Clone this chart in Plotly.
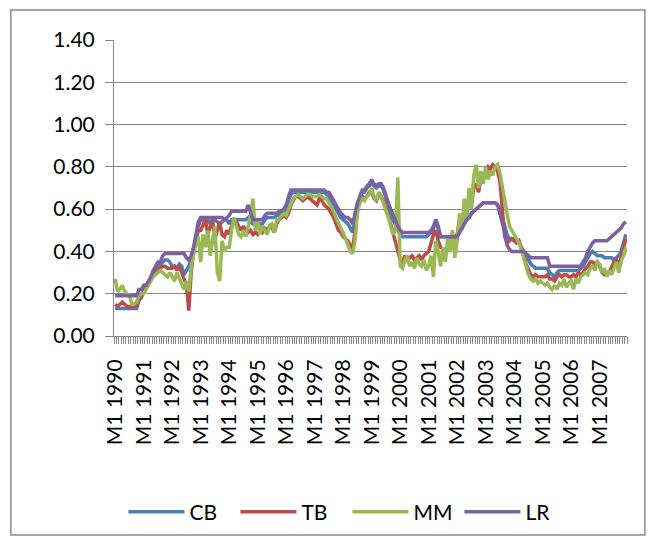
import plotly.graph_objects as go

# Monthly observations, January 1990 to December 2007 (12 values per year)
years = list(range(1990, 2008))
tick_labels = [f"M1 {y}" for y in years]

cb = [
    0.13, 0.13, 0.13, 0.13, 0.13, 0.13, 0.13, 0.13, 0.13, 0.13, 0.17, 0.18,  # 1990
    0.21, 0.23, 0.25, 0.27, 0.29, 0.31, 0.33, 0.34, 0.35, 0.36, 0.36, 0.35,  # 1991
    0.33, 0.33, 0.32, 0.34, 0.33, 0.29, 0.31, 0.33, 0.36, 0.42, 0.47, 0.52,  # 1992
    0.55, 0.55, 0.54, 0.55, 0.53, 0.55, 0.55, 0.54, 0.53, 0.54, 0.55, 0.55,  # 1993
    0.53, 0.55, 0.55, 0.55, 0.55, 0.55, 0.55, 0.55, 0.56, 0.54, 0.53, 0.53,  # 1994
    0.53, 0.53, 0.53, 0.55, 0.56, 0.56, 0.56, 0.56, 0.57, 0.57, 0.58, 0.59,  # 1995
    0.60, 0.64, 0.67, 0.68, 0.68, 0.68, 0.68, 0.68, 0.68, 0.68, 0.68, 0.68,  # 1996
    0.68, 0.68, 0.68, 0.68, 0.68, 0.67, 0.66, 0.64, 0.62, 0.60, 0.58, 0.56,  # 1997
    0.55, 0.54, 0.53, 0.51, 0.49, 0.55, 0.62, 0.65, 0.68, 0.68, 0.70, 0.71,  # 1998
    0.72, 0.71, 0.70, 0.71, 0.71, 0.69, 0.65, 0.61, 0.58, 0.55, 0.52, 0.50,  # 1999
    0.48, 0.47, 0.47, 0.47, 0.47, 0.47, 0.47, 0.47, 0.47, 0.47, 0.47, 0.47,  # 2000
    0.48, 0.49, 0.51, 0.54, 0.51, 0.47, 0.47, 0.47, 0.47, 0.47, 0.47, 0.47,  # 2001
    0.47, 0.49, 0.51, 0.53, 0.55, 0.56, 0.58, 0.59, 0.60, 0.61, 0.62, 0.63,  # 2002
    0.63, 0.63, 0.63, 0.63, 0.63, 0.62, 0.60, 0.56, 0.52, 0.48, 0.46, 0.46,  # 2003
    0.46, 0.45, 0.44, 0.42, 0.40, 0.38, 0.36, 0.34, 0.33, 0.32, 0.32, 0.32,  # 2004
    0.32, 0.32, 0.32, 0.30, 0.29, 0.28, 0.30, 0.31, 0.31, 0.31, 0.31, 0.31,  # 2005
    0.31, 0.31, 0.31, 0.31, 0.32, 0.33, 0.35, 0.37, 0.39, 0.40, 0.39, 0.38,  # 2006
    0.38, 0.38, 0.37, 0.37, 0.37, 0.37, 0.36, 0.37, 0.38, 0.40, 0.44, 0.48,  # 2007
]

tb = [
    0.15, 0.14, 0.15, 0.16, 0.15, 0.14, 0.14, 0.14, 0.14, 0.14, 0.17, 0.19,  # 1990
    0.21, 0.23, 0.25, 0.27, 0.29, 0.30, 0.32, 0.32, 0.33, 0.33, 0.32, 0.32,  # 1991
    0.32, 0.33, 0.31, 0.33, 0.30, 0.27, 0.24, 0.12, 0.30, 0.40, 0.46, 0.50,  # 1992
    0.50, 0.53, 0.55, 0.48, 0.52, 0.55, 0.46, 0.50, 0.54, 0.48, 0.47, 0.50,  # 1993
    0.48, 0.52, 0.55, 0.54, 0.52, 0.50, 0.52, 0.50, 0.49, 0.50, 0.48, 0.49,  # 1994
    0.48, 0.50, 0.49, 0.51, 0.50, 0.52, 0.51, 0.49, 0.53, 0.55, 0.56, 0.57,  # 1995
    0.56, 0.58, 0.62, 0.64, 0.66, 0.66, 0.65, 0.64, 0.65, 0.66, 0.65, 0.64,  # 1996
    0.63, 0.62, 0.65, 0.64, 0.62, 0.61, 0.60, 0.58, 0.56, 0.53, 0.50, 0.49,  # 1997
    0.47, 0.46, 0.45, 0.43, 0.41, 0.50, 0.60, 0.64, 0.66, 0.65, 0.66, 0.68,  # 1998
    0.68, 0.65, 0.64, 0.67, 0.66, 0.64, 0.61, 0.57, 0.53, 0.49, 0.45, 0.40,  # 1999
    0.36, 0.35, 0.38, 0.36, 0.37, 0.38, 0.36, 0.37, 0.38, 0.36, 0.38, 0.39,  # 2000
    0.40, 0.44, 0.48, 0.50, 0.45, 0.42, 0.41, 0.38, 0.42, 0.45, 0.43, 0.47,  # 2001
    0.48, 0.55, 0.52, 0.60, 0.58, 0.65, 0.62, 0.70, 0.72, 0.68, 0.75, 0.74,  # 2002
    0.77, 0.80, 0.79, 0.81, 0.80, 0.78, 0.73, 0.60, 0.47, 0.44, 0.45, 0.46,  # 2003
    0.45, 0.44, 0.45, 0.42, 0.38, 0.34, 0.31, 0.29, 0.28, 0.29, 0.28, 0.28,  # 2004
    0.28, 0.28, 0.29, 0.27, 0.27, 0.26, 0.28, 0.29, 0.28, 0.29, 0.29, 0.28,  # 2005
    0.28, 0.29, 0.28, 0.30, 0.29, 0.30, 0.32, 0.33, 0.35, 0.35, 0.34, 0.35,  # 2006
    0.33, 0.30, 0.29, 0.29, 0.30, 0.33, 0.35, 0.36, 0.34, 0.37, 0.42, 0.46,  # 2007
]

mm = [
    0.27, 0.21, 0.22, 0.24, 0.21, 0.20, 0.19, 0.15, 0.15, 0.16, 0.19, 0.20,  # 1990
    0.20, 0.22, 0.24, 0.26, 0.28, 0.29, 0.30, 0.31, 0.30, 0.29, 0.28, 0.30,  # 1991
    0.28, 0.26, 0.30, 0.27, 0.25, 0.22, 0.26, 0.21, 0.33, 0.39, 0.44, 0.47,  # 1992
    0.35, 0.48, 0.42, 0.50, 0.38, 0.45, 0.52, 0.30, 0.26, 0.45, 0.40, 0.42,  # 1993
    0.42, 0.50, 0.56, 0.52, 0.48, 0.47, 0.50, 0.47, 0.52, 0.57, 0.65, 0.50,  # 1994
    0.55, 0.48, 0.52, 0.50, 0.48, 0.52, 0.53, 0.49, 0.55, 0.55, 0.57, 0.58,  # 1995
    0.57, 0.60, 0.63, 0.65, 0.66, 0.67, 0.66, 0.65, 0.66, 0.67, 0.67, 0.66,  # 1996
    0.66, 0.66, 0.67, 0.66, 0.65, 0.65, 0.63, 0.61, 0.59, 0.56, 0.53, 0.51,  # 1997
    0.49, 0.46, 0.42, 0.40, 0.39, 0.45, 0.58, 0.63, 0.65, 0.64, 0.66, 0.67,  # 1998
    0.70, 0.66, 0.64, 0.68, 0.66, 0.63, 0.60, 0.56, 0.52, 0.48, 0.50, 0.75,  # 1999
    0.33, 0.32, 0.36, 0.38, 0.33, 0.35, 0.32, 0.37, 0.34, 0.33, 0.36, 0.31,  # 2000
    0.33, 0.38, 0.28, 0.45, 0.40, 0.33, 0.42, 0.35, 0.46, 0.40, 0.50, 0.37,  # 2001
    0.45, 0.58, 0.50, 0.65, 0.55, 0.70, 0.60, 0.76, 0.81, 0.70, 0.78, 0.72,  # 2002
    0.80, 0.74, 0.78, 0.76, 0.80, 0.81, 0.77, 0.70, 0.64, 0.58, 0.52, 0.50,  # 2003
    0.48, 0.46, 0.44, 0.41, 0.37, 0.32, 0.29, 0.27, 0.26, 0.27, 0.25, 0.26,  # 2004
    0.25, 0.24, 0.25, 0.23, 0.22, 0.24, 0.22, 0.25, 0.24, 0.27, 0.23, 0.25,  # 2005
    0.26, 0.22, 0.27, 0.25, 0.28, 0.29, 0.30, 0.29, 0.32, 0.33, 0.31, 0.35,  # 2006
    0.34, 0.30, 0.32, 0.28, 0.31, 0.29, 0.32, 0.35, 0.30, 0.35, 0.38, 0.42,  # 2007
]

lr = [
    0.19, 0.19, 0.19, 0.19, 0.19, 0.19, 0.19, 0.19, 0.19, 0.19, 0.22, 0.22,  # 1990
    0.24, 0.24, 0.26, 0.28, 0.31, 0.33, 0.35, 0.35, 0.38, 0.39, 0.39, 0.39,  # 1991
    0.39, 0.39, 0.39, 0.39, 0.39, 0.39, 0.37, 0.36, 0.38, 0.42, 0.48, 0.54,  # 1992
    0.56, 0.56, 0.56, 0.56, 0.56, 0.56, 0.56, 0.56, 0.56, 0.56, 0.55, 0.56,  # 1993
    0.57, 0.59, 0.59, 0.59, 0.59, 0.59, 0.59, 0.59, 0.62, 0.58, 0.55, 0.55,  # 1994
    0.55, 0.55, 0.55, 0.57, 0.58, 0.58, 0.58, 0.58, 0.58, 0.59, 0.59, 0.60,  # 1995
    0.62, 0.66, 0.69, 0.69, 0.69, 0.69, 0.69, 0.69, 0.69, 0.69, 0.69, 0.69,  # 1996
    0.69, 0.69, 0.69, 0.69, 0.69, 0.68, 0.68, 0.66, 0.64, 0.62, 0.60, 0.58,  # 1997
    0.57, 0.56, 0.56, 0.55, 0.53, 0.58, 0.63, 0.66, 0.69, 0.69, 0.71, 0.72,  # 1998
    0.74, 0.72, 0.71, 0.72, 0.72, 0.70, 0.66, 0.63, 0.60, 0.57, 0.54, 0.52,  # 1999
    0.50, 0.49, 0.49, 0.49, 0.49, 0.49, 0.49, 0.49, 0.49, 0.49, 0.49, 0.49,  # 2000
    0.49, 0.50, 0.52, 0.55, 0.52, 0.47, 0.47, 0.47, 0.47, 0.47, 0.47, 0.47,  # 2001
    0.47, 0.49, 0.51, 0.53, 0.55, 0.56, 0.58, 0.59, 0.60, 0.61, 0.62, 0.63,  # 2002
    0.63, 0.63, 0.63, 0.63, 0.63, 0.62, 0.58, 0.54, 0.49, 0.43, 0.41, 0.40,  # 2003
    0.40, 0.40, 0.40, 0.40, 0.40, 0.39, 0.38, 0.37, 0.37, 0.37, 0.37, 0.37,  # 2004
    0.37, 0.37, 0.37, 0.33, 0.33, 0.33, 0.33, 0.33, 0.33, 0.33, 0.33, 0.33,  # 2005
    0.33, 0.33, 0.33, 0.33, 0.33, 0.35, 0.37, 0.40, 0.42, 0.44, 0.45, 0.45,  # 2006
    0.45, 0.45, 0.45, 0.45, 0.46, 0.47, 0.48, 0.49, 0.50, 0.51, 0.53, 0.54,  # 2007
]

months = list(range(len(cb)))
tick_positions = [12 * i for i in range(len(years))]

series = [
    ("CB", cb, "#4A7EBB"),
    ("TB", tb, "#BE4B48"),
    ("MM", mm, "#98B954"),
    ("LR", lr, "#7D60A0"),
]

FONT = "Lato, 'Open Sans', sans-serif"
AXIS_GREY = "#868686"

fig = go.Figure()
for name, values, color in series:
    fig.add_trace(go.Scatter(
        x=months, y=values, name=name, mode="lines",
        line=dict(color=color, width=3.5),
    ))

fig.update_layout(
    width=655, height=543,
    margin=dict(l=114, r=28, t=40, b=207, autoexpand=False),
    paper_bgcolor="white", plot_bgcolor="white",
    font=dict(family=FONT, color="#000000"),
    showlegend=True,
    legend=dict(
        orientation="h", x=0.455, y=-0.595, xanchor="center", yanchor="middle",
        font=dict(size=21, family=FONT), itemwidth=56,
        entrywidth=41, entrywidthmode="pixels",
        bgcolor="rgba(0,0,0,0)",
    ),
    xaxis=dict(
        range=[-0.5, len(months) - 0.5],
        tickmode="array", tickvals=tick_positions, ticktext=tick_labels,
        tickangle=-90, ticks="", ticklabelstandoff=14,
        tickfont=dict(size=21, family=FONT),
        showgrid=False, zeroline=False,
        showline=True, linecolor=AXIS_GREY, linewidth=1,
        minor=dict(ticks="outside", ticklen=7, tickcolor=AXIS_GREY,
                   tickmode="linear", tick0=-0.5, dtick=1, showgrid=False),
    ),
    yaxis=dict(
        range=[0, 1.4], dtick=0.2, tickformat=".2f",
        tickfont=dict(size=21, family=FONT),
        ticks="outside", ticklen=8, tickcolor=AXIS_GREY,
        ticklabelstandoff=6,
        showgrid=True, gridcolor=AXIS_GREY, gridwidth=1,
        zeroline=False, showline=True, linecolor=AXIS_GREY, linewidth=1,
    ),
    shapes=[dict(
        type="rect", xref="paper", yref="paper",
        x0=-0.201, x1=1.035, y0=-0.672, y1=1.101,
        line=dict(color="#8a8a8a", width=1.5), fillcolor="rgba(0,0,0,0)",
        layer="below",
    )],
)

fig.write_html("out.html")
